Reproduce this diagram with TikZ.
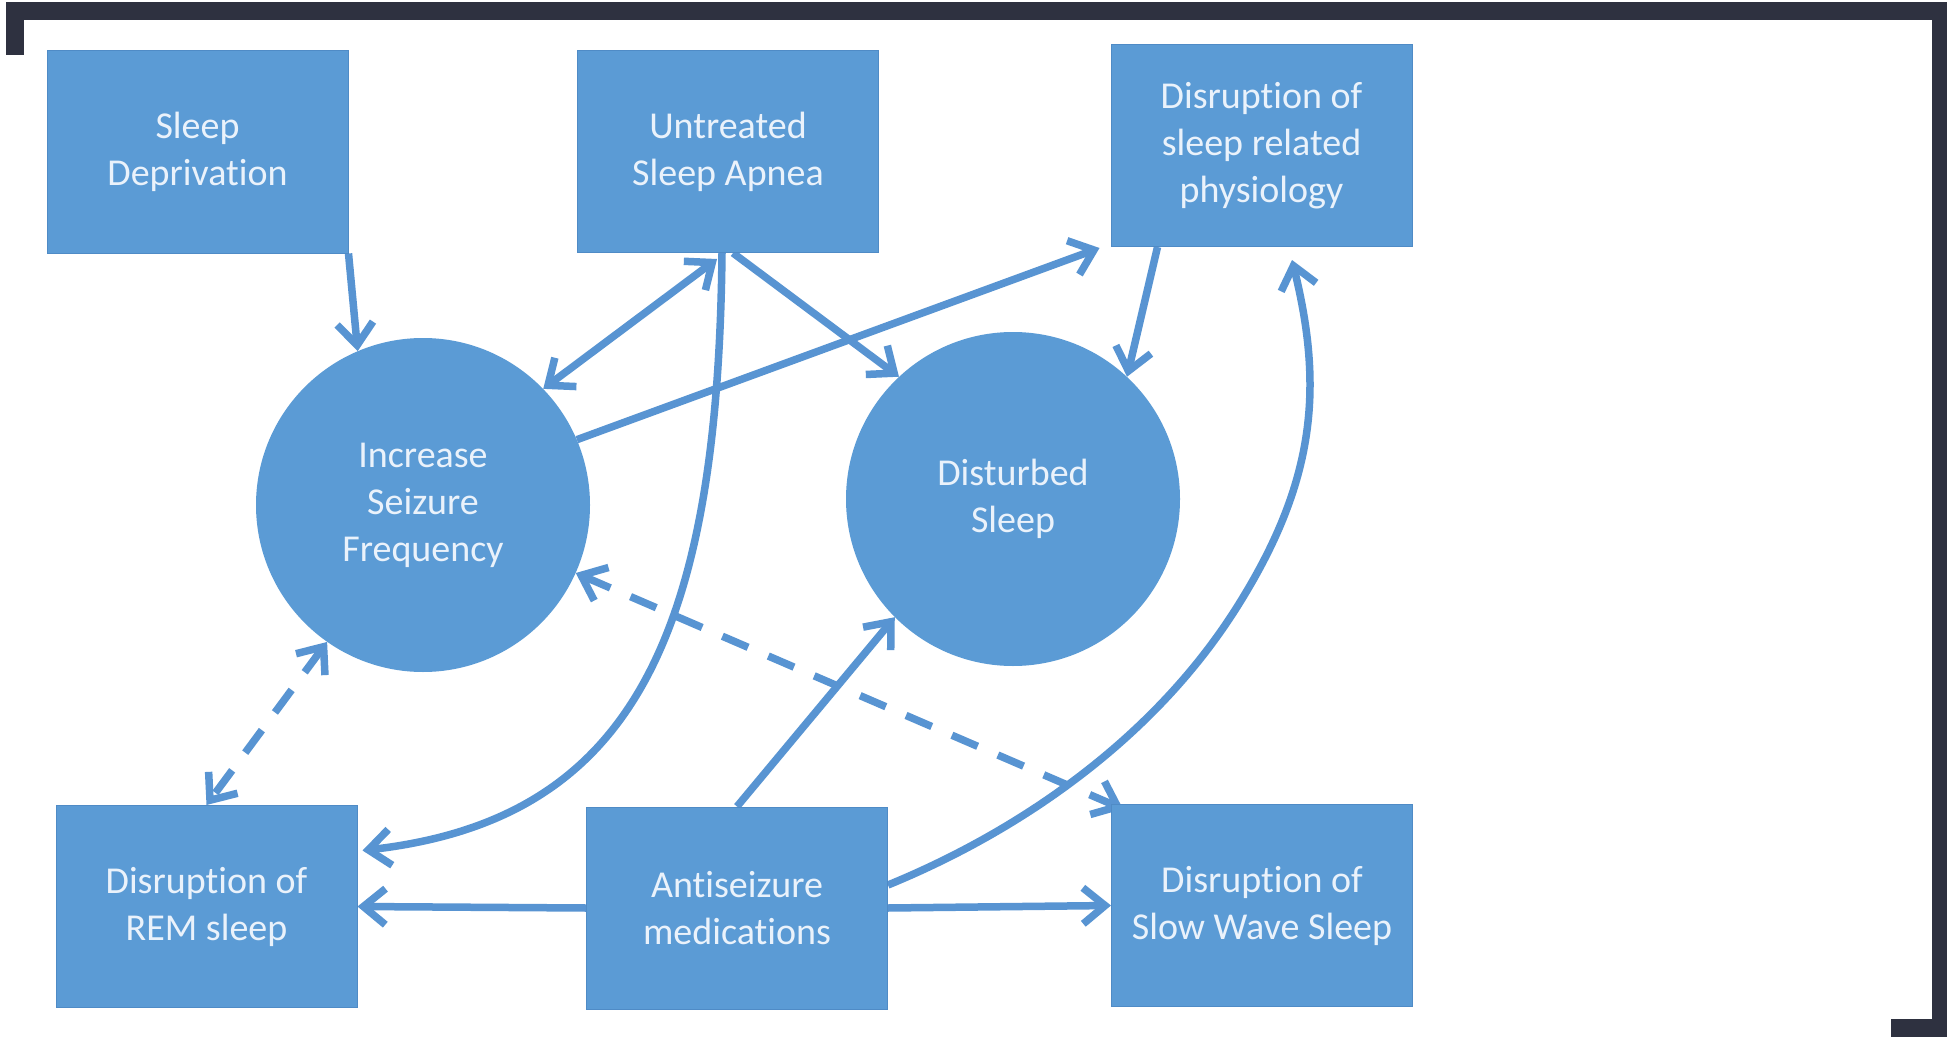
\documentclass[tikz,border=0pt]{standalone}
\usepackage{fontspec}
\setmainfont{Carlito}[Ligatures={NoCommon}]
\usetikzlibrary{arrows.meta,backgrounds}

\definecolor{boxblue}{HTML}{5B9BD5}
\definecolor{boxedge}{HTML}{4F8BC6}
\definecolor{linkblue}{HTML}{5894D2}
\definecolor{labeltext}{HTML}{EAF2FB}
\definecolor{framedark}{HTML}{2E3140}

\tikzset{
  label font/.style={font=\fontsize{38}{47}\selectfont, text=labeltext, align=center, inner sep=0pt},
  box/.style={label font, rectangle, draw=boxedge, line width=1pt, fill=boxblue,
              minimum width=301pt, minimum height=202pt},
  bubble/.style={label font, circle, fill=boxblue, minimum size=334pt},
  link/.style={draw=linkblue, line width=7.5pt, ->},
  twoway/.style={draw=linkblue, line width=7.5pt, <->},
  maybe/.style={dash pattern=on 28pt off 22pt},
  >={Straight Barb[length=22pt,width=36pt]}
}

\begin{document}
\begin{tikzpicture}[x=1pt,y=-1pt]
  \useasboundingbox (0,0) rectangle (1947,1038);

  % causes, effects and the two central states
  \node[box] (sd)  at (197.5,152)   {Sleep\\Deprivation};
  \node[box] (usa) at (728,151.5)   {Untreated\\Sleep Apnea};
  \node[box] (phy) at (1261.5,145.5){Disruption of\\sleep related\\physiology};
  \node[bubble] (isf) at (423,505)  {Increase\\Seizure\\Frequency};
  \node[bubble] (ds)  at (1013,499) {Disturbed\\Sleep};
  \node[box] (rem) at (206.5,906.5) {Disruption of\\REM sleep};
  \node[box] (asm) at (737,908)     {Antiseizure\\medications};
  \node[box] (sws) at (1262,905.5)  {Disruption of\\Slow Wave Sleep};

  \coordinate (bend) at (1237,607);

  \begin{pgfonlayer}{background}
    \fill[white] (0,0) rectangle (1947,1038);

    % solid influences
    \draw[link] (sd.south east) -- (isf.113);
    \draw[twoway] (isf.44) -- ([shift={(-11,6)}]usa.south);
    \draw[link] ([shift={(5,0)}]usa.south) -- (ds.133);
    \draw[link] ([shift={(-6,0)}]usa.south)
      .. controls (718,640) and (630,820) .. ([shift={(5,-56)}]rem.east);
    \draw[link] (isf.23) -- ([shift={(-11,1)}]phy.south west);
    \draw[link] ([shift={(-104,0)}]phy.south) -- (ds.47);
    \draw[link] (asm.north) -- (ds.225);
    \draw[link] (asm.west) -- (rem.east);
    \draw[link] (asm.east) -- (sws.west);
    \draw[link] ([shift={(0,-23)}]asm.east)
      .. controls (1027,828) and (1157,734) .. (bend)
      .. controls (1317,480) and (1323,386) .. ([shift={(30.5,13)}]phy.south);

    % uncertain, two-way associations
    \draw[twoway, maybe] (isf.235) -- (rem.north);
    \draw[twoway, maybe] (isf.-24) -- ([shift={(12,5)}]sws.north west);
  \end{pgfonlayer}

  % frame brackets
  \fill[framedark] (6,2) rectangle (1947,20);
  \fill[framedark] (6,2) rectangle (24,55);
  \fill[framedark] (1932,2) rectangle (1947,1037);
  \fill[framedark] (1891,1019) rectangle (1947,1037);
\end{tikzpicture}
\end{document}
